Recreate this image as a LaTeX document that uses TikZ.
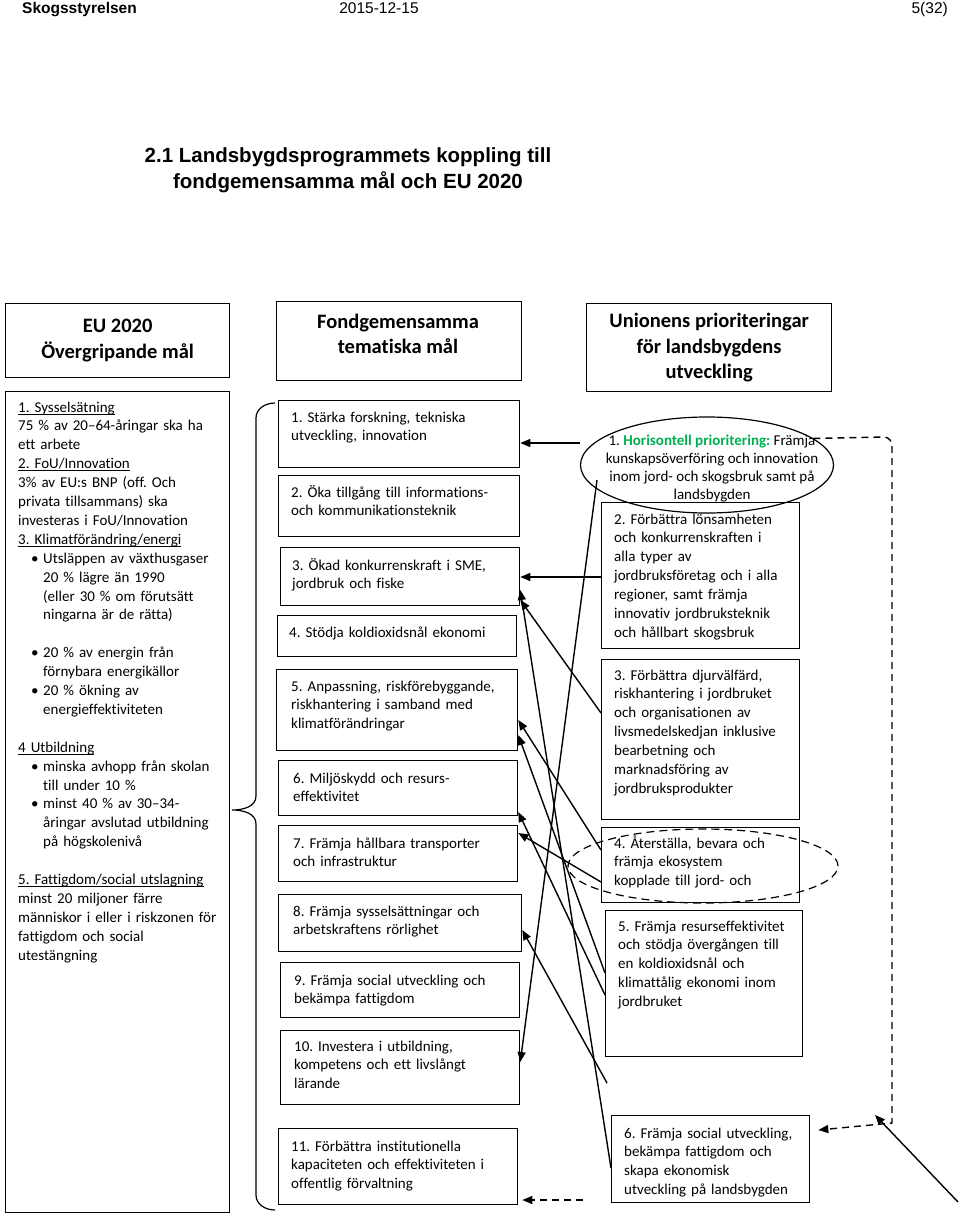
\documentclass[tikz,border=0pt]{standalone}
\usepackage{fontspec}
\setmainfont{Carlito}[Ligatures={TeX,NoCommon}]
\newfontfamily\arialfont{Liberation Sans}
\usetikzlibrary{arrows.meta,shapes.geometric,calc}

\definecolor{hgreen}{RGB}{0,176,80}
\newcommand{\bodyfont}{\fontsize{15}{18.9}\selectfont\frenchspacing}
\newcommand{\headfont}{\fontsize{20.5}{25.5}\selectfont\bfseries}
\newcommand{\lbul}{\leavevmode\hspace*{13pt}\makebox[12pt][l]{•}}
\newcommand{\lind}{\leavevmode\hspace*{25pt}}
\newcommand{\undl}[1]{\leavevmode\setbox0\hbox{#1}\rlap{\rule[-2.2pt]{\wd0}{0.7pt}}#1}

\begin{document}
\begin{tikzpicture}[x=1pt, y=-1pt,
    frame/.style={draw, line width=1.3pt, anchor=north west, inner sep=0pt},
    ell/.style={draw, ellipse, line width=1.2pt, inner sep=0pt},
    txt/.style={anchor=base west, inner sep=0pt, text width=235pt, align=left, font=\bodyfont},
    hdr/.style={inner sep=0pt, align=center, font=\headfont},
    arr/.style={line width=1.4pt, -{Triangle[length=10pt,width=8pt]}},
    darr/.style={arr, dash pattern=on 7pt off 5pt}
    ]
    \useasboundingbox (0,0) rectangle (960,1225);

    % page head and title
    \node[anchor=base west, inner sep=0pt, font=\arialfont\bfseries\fontsize{15.5}{18}\selectfont] (firm) at (22,14) {Skogsstyrelsen};
    \node[anchor=base, inner sep=0pt, font=\arialfont\fontsize{15.5}{18}\selectfont] (date) at (379,14) {2015-12-15};
    \node[anchor=base east, inner sep=0pt, font=\arialfont\fontsize{15.5}{18}\selectfont] (page) at (948,14) {5(32)};
    \node[inner sep=0pt, align=center, font=\arialfont\bfseries\fontsize{20.5}{26}\selectfont] (title) at (348,170)
      {2.1\ Landsbygdsprogrammets koppling till\\fondgemensamma mål och EU 2020};

    % EU 2020
    \node[frame, minimum width=224, minimum height=74] (euh) at (5,303) {};
    \node[hdr] (euhtext) at (euh.center) {EU 2020\\Övergripande mål};
    \node[frame, minimum width=224, minimum height=821] (eu) at (5,391) {};
    \node[txt] (eutext) at ($(eu.north west)+(13,21)$) {%
      \undl{1. Sysselsätning}\\
      75 \% av 20–64-åringar ska ha\\
      ett arbete\\
      \undl{2. FoU/Innovation}\\
      3\% av EU:s BNP (off. Och\\
      privata tillsammans) ska\\
      investeras i FoU/Innovation\\
      \undl{3. Klimatförändring/energi}\\
      \lbul Utsläppen av växthusgaser\\
      \lind 20 \% lägre än 1990\\
      \lind (eller 30 \% om förutsätt\\
      \lind ningarna är de rätta)\\[18.9pt]
      \lbul 20 \% av energin från\\
      \lind förnybara energikällor\\
      \lbul 20 \% ökning av\\
      \lind energieffektiviteten\\[18.9pt]
      \undl{4 Utbildning}\\
      \lbul minska avhopp från skolan\\
      \lind till under 10 \%\\
      \lbul minst 40 \% av 30–34-\\
      \lind åringar avslutad utbildning\\
      \lind på högskolenivå\\[18.9pt]
      \undl{5. Fattigdom/social utslagning}\\
      minst 20 miljoner färre\\
      människor i eller i riskzonen för\\
      fattigdom och social\\
      utestängning};

    % brace
    \draw[line width=1.2pt] (275,403) to[out=180,in=90] (256,418) -- (256,796)
      to[out=-90,in=0] (232,810) to[out=0,in=90] (256,824) -- (256,1195)
      to[out=-90,in=180] (275,1210);

    % fondgemensamma tematiska mål
    \node[frame, minimum width=245, minimum height=79] (tmh) at (276,301) {};
    \node[hdr] (tmhtext) at (398,334) {Fondgemensamma\\tematiska mål};
    \node[frame, minimum width=241, minimum height=67] (t1) at (278,400) {};
    \node[txt] (t1text) at ($(t1.north west)+(13,22)$) {1. Stärka forskning, tekniska\\utveckling, innovation};
    \node[frame, minimum width=241, minimum height=61] (t2) at (278,475) {};
    \node[txt] (t2text) at ($(t2.north west)+(13,22)$) {2. Öka tillgång till informations-\\och kommunikationsteknik};
    \node[frame, minimum width=239, minimum height=58] (t3) at (280,547) {};
    \node[txt] (t3text) at ($(t3.north west)+(12,23)$) {3. Ökad konkurrenskraft i SME,\\jordbruk och fiske};
    \node[frame, minimum width=239, minimum height=41] (t4) at (277,615) {};
    \node[txt] (t4text) at ($(t4.north west)+(12,22)$) {4. Stödja koldioxidsnål ekonomi};
    \node[frame, minimum width=241, minimum height=81] (t5) at (276,669) {};
    \node[txt] (t5text) at ($(t5.north west)+(15,22)$) {5. Anpassning, riskförebyggande,\\riskhantering i samband med\\klimatförändringar};
    \node[frame, minimum width=239, minimum height=55] (t6) at (278,760) {};
    \node[txt] (t6text) at ($(t6.north west)+(15,23)$) {6. Miljöskydd och resurs-\\effektivitet};
    \node[frame, minimum width=239, minimum height=56] (t7) at (278,825) {};
    \node[txt] (t7text) at ($(t7.north west)+(15,23)$) {7. Främja hållbara transporter\\och infrastruktur};
    \node[frame, minimum width=243, minimum height=57] (t8) at (278,894) {};
    \node[txt] (t8text) at ($(t8.north west)+(15,22)$) {8. Främja sysselsättningar och\\arbetskraftens rörlighet};
    \node[frame, minimum width=239, minimum height=55] (t9) at (280,962) {};
    \node[txt] (t9text) at ($(t9.north west)+(14,23)$) {9. Främja social utveckling och\\bekämpa fattigdom};
    \node[frame, minimum width=239, minimum height=74] (t10) at (280,1030) {};
    \node[txt] (t10text) at ($(t10.north west)+(14,21)$) {10. Investera i utbildning,\\kompetens och ett livslångt\\lärande};
    \node[frame, minimum width=239, minimum height=76] (t11) at (278,1128) {};
    \node[txt] (t11text) at ($(t11.north west)+(13,23)$) {11. Förbättra institutionella\\kapaciteten och effektiviteten i\\offentlig förvaltning};

    % unionens prioriteringar
    \node[frame, minimum width=245, minimum height=88] (rh) at (586,303) {};
    \node[hdr] (rhtext) at (rh.center) {Unionens prioriteringar\\för landsbygdens\\utveckling};
    \node[ell, minimum width=253, minimum height=96] (r1) at (707,465) {};
    \node[inner sep=0pt, align=center, font=\fontsize{15}{18}\selectfont\frenchspacing] (r1text) at (712,469)
      {1. {\color{hgreen}\bfseries Horisontell prioritering:} Främja\\kunskapsöverföring och innovation\\inom jord- och skogsbruk samt på\\landsbygden};
    \node[frame, minimum width=198, minimum height=146] (r2) at (601,502) {};
    \node[txt] (r2text) at ($(r2.north west)+(13,22)$) {2. Förbättra lönsamheten\\och konkurrenskraften i\\alla typer av\\jordbruksföretag och i alla\\regioner, samt främja\\innovativ jordbruksteknik\\och hållbart skogsbruk};
    \node[frame, minimum width=198, minimum height=160] (r3) at (601,659) {};
    \node[txt] (r3text) at ($(r3.north west)+(13,21)$) {3. Förbättra djurvälfärd,\\riskhantering i jordbruket\\och organisationen av\\livsmedelskedjan inklusive\\bearbetning och\\marknadsföring av\\jordbruksprodukter};
    \node[frame, minimum width=198, minimum height=75] (r4) at (601,827) {};
    \node[txt] (r4text) at ($(r4.north west)+(13,21)$) {4. Återställa, bevara och\\främja ekosystem\\kopplade till jord- och};
    \node[ell, dash pattern=on 8pt off 5pt, minimum width=270, minimum height=74] (r4e) at (703,866) {};
    \node[frame, minimum width=197, minimum height=146] (r5) at (605,910) {};
    \node[txt] (r5text) at ($(r5.north west)+(13,21)$) {5. Främja resurseffektivitet\\och stödja övergången till\\en koldioxidsnål och\\klimattålig ekonomi inom\\jordbruket};
    \node[frame, minimum width=198, minimum height=87] (r6) at (611,1115) {};
    \node[txt] (r6text) at ($(r6.north west)+(13,23)$) {6. Främja social utveckling,\\bekämpa fattigdom och\\skapa ekonomisk\\utveckling på landsbygden};

    % connectors
    \coordinate (r1in) at ($(r1.center)+(-110,15)$);
    \coordinate (loose) at (607,1083);
    \coordinate (corner) at (892,1123);
    \coordinate (edge) at (958,1202);
    \coordinate (tip) at (875,1115);
    \coordinate (dstart) at (583,1200);

    \draw[arr] (r1.west |- 0,443) -- (t1.east |- 0,443);
    \draw[arr] (r2.west |- 0,577) -- (t3.east |- 0,577);
    \draw[arr] (r1in) -- (t10.east |- 0,1062);
    \draw[arr] (r6.west |- 0,1168) -- (t3.east |- 0,590);
    \draw[arr] (r3.west |- 0,713) -- (t3.east |- 0,600);
    \draw[arr] (r4.west |- 0,850) -- (t5.east |- 0,720);
    \draw[arr] (r5.west |- 0,973) -- (t5.east |- 0,735);
    \draw[arr] (r5.west |- 0,995) -- (t6.east |- 0,812);
    \draw[arr] (r4.west |- 0,882) -- (t7.east |- 0,833);
    \draw[arr] (loose) -- (t8.east |- 0,930);
    \draw[darr] (r1.14) -- (884,437) to[out=0,in=90] (892,446) -- (corner) -- ($(r6.north east)+(8,15)$);
    \draw[arr] (edge) -- (tip);
    \draw[darr] (dstart) -- ($(t11.east |- 0,1200)+(4,0)$);
\end{tikzpicture}
\end{document}
